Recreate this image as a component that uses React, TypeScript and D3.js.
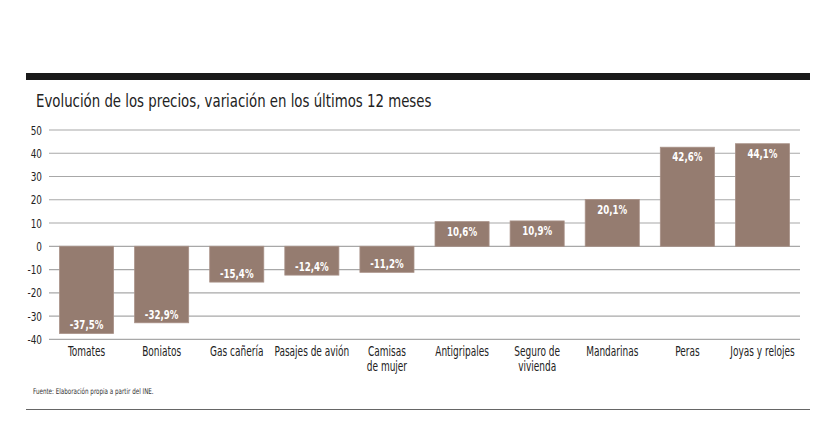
import React from "react";
import * as d3 from "d3";

const categories: string[][] = [
  ["Tomates"],
  ["Boniatos"],
  ["Gas cañería"],
  ["Pasajes de avión"],
  ["Camisas", "de mujer"],
  ["Antigripales"],
  ["Seguro de", "vivienda"],
  ["Mandarinas"],
  ["Peras"],
  ["Joyas y relojes"],
];
const values: number[] = [-37.5, -32.9, -15.4, -12.4, -11.2, 10.6, 10.9, 20.1, 42.6, 44.1];
const yTicks: number[] = [50, 40, 30, 20, 10, 0, -10, -20, -30, -40];

const title = "Evolución de los precios, variación en los últimos 12 meses";
const source = "Fuente: Elaboración propia a partir del INE.";

const FONT = "'DejaVu Sans Condensed', 'DejaVu Sans', sans-serif";

function T(props: {
  x: number;
  y: number;
  sx?: number;
  size: number;
  anchor?: "start" | "middle" | "end";
  fill?: string;
  weight?: string | number;
  children: React.ReactNode;
}) {
  const { x, y, sx = 0.76, size, anchor = "start", fill = "#222", weight = "normal", children } = props;
  return (
    <g transform={`translate(${x},${y}) scale(${sx},1)`}>
      <text x={0} y={0} fontSize={size} textAnchor={anchor} fill={fill} fontWeight={weight}>
        {children}
      </text>
    </g>
  );
}

export default function App() {
  const W = 833;
  const H = 423;
  const x = d3
    .scaleBand<number>()
    .domain(d3.range(values.length))
    .range([49, 800])
    .paddingInner(0.28)
    .paddingOuter(0.14);
  const y = d3.scaleLinear().domain([-40, 50]).range([339.3, 130]);
  const fmt = (v: number) => v.toFixed(1).replace(".", ",") + "%";

  return (
    <svg
      width={W}
      height={H}
      style={{ position: "absolute", left: 0, top: 0, background: "#fff" }}
      fontFamily={FONT}
    >
      <rect x={26} y={73} width={784} height={7} fill="#1a1a1a" />
      <T x={36} y={107} size={18.5} sx={0.8}>
        {title}
      </T>
      {yTicks.map((t) => (
        <g key={t}>
          <line x1={49} x2={800} y1={y(t)} y2={y(t)} stroke="#a8a8a8" strokeWidth={1.2} />
          <T x={42} y={y(t) + 4.5} size={13} anchor="end">
            {t}
          </T>
        </g>
      ))}
      {values.map((v, i) => {
        const bx = x(i)!;
        const bw = x.bandwidth();
        const top = y(Math.max(0, v));
        const bot = y(Math.min(0, v));
        const ly = v >= 0 ? top + 14 : bot - 4;
        return (
          <g key={i}>
            <rect x={bx} y={top} width={bw} height={bot - top} fill="#957c70" stroke="#a89187" strokeWidth={0.8} />
            <T x={bx + bw / 2} y={ly} size={13} anchor="middle" fill="#fff" weight={600} sx={0.74}>
              {fmt(v)}
            </T>
            {categories[i].map((line, j) => (
              <T key={j} x={bx + bw / 2} y={356 + j * 15} size={13.5} anchor="middle" sx={0.74}>
                {line}
              </T>
            ))}
          </g>
        );
      })}
      <T x={33} y={394} size={8} fill="#333" sx={0.78}>
        {source}
      </T>
      <line x1={26} x2={810} y1={409.5} y2={409.5} stroke="#666" strokeWidth={1} />
    </svg>
  );
}
